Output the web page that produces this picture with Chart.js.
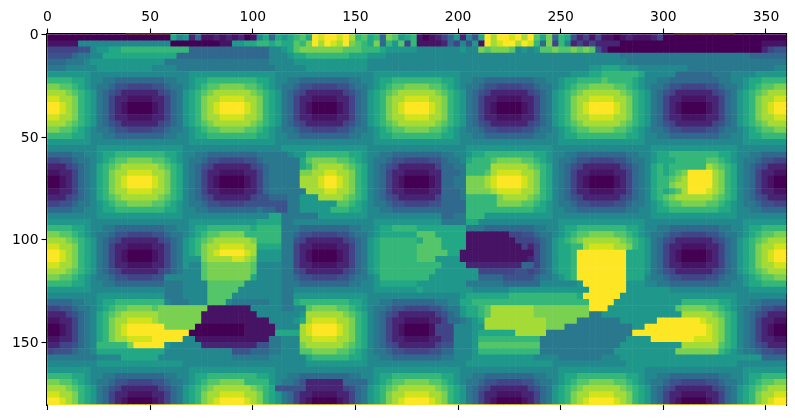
<!DOCTYPE html>
<html>
<head>
<meta charset="utf-8">
<script src="https://cdn.jsdelivr.net/npm/chart.js@4/dist/chart.umd.min.js"></script>
<style>
html, body { margin: 0; padding: 0; background: #fff; }
</style>
</head>
<body>
<canvas id="chart" width="795" height="420"></canvas>
<script>
var xTicks = [0, 50, 100, 150, 200, 250, 300, 350];
var yTicks = [0, 50, 100, 150];

// one hex digit per 3x3 cell, 0 = lowest level, F = highest
var gridRows = [
'000000000000000000009782511212 1201795989AB9FEFFEFDAB9A5CB89A 10123582749FDFFEFDFB9C5A942313 110121112300000000000000000000',
'111117777777777777770000000011 8899AA9A99BACFDFEDFCBA9C5A8B3A 11112537481FDEFFDFEA5C3A723232 222000000000000000000000001111',
'333334478899AAAAAAAAAAA5555555 5555557789BCCCCCCCBBBAAA988888 7777777877CBCCCB7878BBCBBCBCB4 200000000000000000000000002344',
'444456677999999999999555555555 555555777899AAAAAAA99988877777 777777777777777777777777777777 777666666666666666666666555555',
'555666788888888888866666666666 666666777788888888888877777777 777777777777777777777777777777 777766666666666666666666666666',
'666777778888888887777666666666 666666677777888888888877777777 777777777777777777777777777788 999888777777776666666666666677',
'888888877777777777777778888888 888888877777777777777778888888 888888877777777777777777788899 AAAAAA977777555555666777788888',
'AAAA9987766555555556677899AAAA AAAA9987766555555556677899AAAA AAAA9987766555555556677899AAAA BAAAA987766555555556677899AAAA',
'CCBBA98766544333344566789ABBCC CCBBA98766544333344566789ABBCC CCBBA98766544333344566789ABBCC CCBBA98766544333344566789ABBCC',
'DDDCBA986543222222345689ABCDDD DDDCBA986543222222345689ABCDDD DDDCBA986543222222345689ABCDDD DDDCBA986543222222345689ABCDDD',
'EEDDCA986532211112235689ACDDEE EEDDCA986532211112235689ACDDEE EEDDCA986532211112235689ACDDEE EEDDCA986532211112235689ACDDEE',
'FFEDCA986532100001235689ACDEFF FFEDCA986532100001235689ACDEFF FFEDCA986532100001235689ACDEFF FFEDCA986532100001235689ACDEFF',
'FFEDCA986532100001235689ACDEFF FFEDCA986532100001235689ACDEFF FFEDCA986532100001235689ACDEFF FFEDCA986532100001235689ACDEFF',
'EEDDCA986532211112235689ACDDEE EEDDCA986532211112235689ACDDEE EEDDCA986532211112235689ACDDEE EEDDCA986532211112235689ACDDEE',
'DDDCBA986543222222345689ABCDDD DDDCBA986543222222345689ABCDDD DDDCBA986543222222345689ABCDDD DDDCBA986543222222345689ABCDDD',
'CCBBA98766544333344566789ABBCC CCBBA98766544333344566789ABBCC CCBBA98766544333344566789ABBCC CCBBA98766544333344566789ABBCC',
'AAAA9987766555555556677899AAAA AAAA9987766555555556677899AAAA AAAA9987766555555556677899AAAA AAAA9987766555555556677899AAAA',
'888888877777777777777778888888 888888877777777777777778888888 888888877777777777777778888888 888888877777777777777778888888',
'777777778888888888888877777777 777777778888888888888877777777 777777778888888888888877777777 777777778888888888888877777777',
'55556677899AAAAAAAA99877665555 555566666788AAAAAAA99877665555 55556677899AAAAAAAA99877665555 55556677899AAAAAAAA99877665555',
'3344566789ABBCCCCBBA9876654433 334456666669BCCCCBBA9876654433 334456679AAABCCCCBBA9876654433 334456678999AAAAABBA9876654433',
'222345679ABCDDDDDDCBA976543222 222345666669ACDDDDCBA976543222 22235566AAAADDDDDDCBA976543222 222345679A9AAAAAADCBA976543222',
'112235679ACDDEEEEDDCA976532211 11223566666CCDDEEDDCA976532211 11225556AAABDEEEEDDCA976532211 112235679A9ABCFFFFDCA976532211',
'001235679ACDEFFFFEDCA976532100 00123566666DDDEFFEDCA976532100 00125566CCCDEFFFFEDCA976532100 001235679AABCDFFFFDCA976532100',
'001235679ACDEFFFFEDCA976532100 00123566666DDDEFFEDCA976532100 00125566CCCDEFFFFEDCA976532100 001235679AACDDFFFFDCA976532100',
'112235679ACDDEEEEDDCA976532211 112235666666DDDEEDDCA976532211 11225556CCCCDEEEEDDCA976532211 112235679A9ABDFFFEDCA976532211',
'222345679ABCDDDDDDCBA976543222 22234455566888DDDDCBA976543222 22235556AAAAACDDDDCBA976543222 222345679ABCDDDDDDCBA976543222',
'3344566789ABBCCCCBBA9876654433 33444444466888888BBA9876654433 33445555AAAAACCCCBBA9876654433 3344566789ABBCCCCBBA9876654433',
'55556677899AAAAAAAA99877665555 5555655446688888AAA99877665555 55555555AAAAAAAAAAA99877665555 55556677899AAAAAAAA99877665555',
'777777778888888888888877777777 777777996666668888888877777777 77775566AAA8888888888877777777 777777778888888888888877777777',
'888888877777777777777778888888 888899996677777777777778888888 888866669977777777777778888888 888888877777777777777778888888',
'AAAA9987766555555556677899AAAA AAA9AAAA666555555556677899AAAA 99999999666555555556677899AAAA AAAA9987766555555556677899AAAA',
'CCBBA98766544333344566789ABBCC CCAAAAAA6654433334456678999999 BBB9999911111113344566789ABBCC CCBBA98766544333344566789ABBCC',
'DDDCBA986543222222345689ABCDDD DDDCAAAA6643222222345689AAAAAA 9BBB99991111111133345689ABCDDD DDDCBA986543222222345689ABCDDD',
'EEDDCA986532211112235689ACDDEE EEDD99996632211112235689AAAAAA BBBB999911111111132356899AADEE EEDDCA986532211112235689ACDDEE',
'FFEDCA986532100001235689ACDEFF FFED88886632100001235689AAAAAA BBBBB9911111111111135689 9AFFFF FFFF99986532100001235689ACDEFF',
'FFEDCA98653210000123568 88CDDDD EEDC88886632100001235689AAAAAA BBB888811111111111235689 9AFFFF FFFF99986532100001235689ACDEFF',
'EEDDCA98653221111223568 77BCCCC CCCB77776632211112235689AAAAAA AAAA8888222222222553568 99AFFFF FFFF99986532211112235689ACDDEE',
'DDDCBA986543222222345 67 77BCCCC CCCB77776643222222345689AAAAAA AAA8888888333333443456 89 9AFFFF FFFF99986543222222345689ABCDDD',
'CCBBA98766544333344777777BCCCC CCC97777665443333445 6678AAAAAA AA88888888555544444566 78 9AFFFF FFFF999766544333344566789ABBCC',
'AAAA998776655555555 6667777BBBB BB7777776665555555566778999999 888888886666665555557777778FFF FFFF8887766555555556677899AAAA',
'88888887777777777776667777BBBB B777777766777777777777788888889 888888887777778888888888888FFF FFF888888877777777777778888888',
'777777778888888888866677 77BBBB 777777776688888888888877777777 7777777899999 99AAAAAAAAAAA9FFF FFF8888888888888888888 77777777',
'55556677899AAAAAAAA7666777BBB7 66666677669AAAAAAAA99877665555 555667799AAAAAAAAAAAAAAAAAAAFF FF88888888888AAAAAA99877665555',
'3344566789ABBCCCCBCCCCCCCC1111 111777776677BCCCCBBA9876654433 3344566899ABDDDDDDDCCCCCCCCCFF F88888888888BCCCCBBA9876654433',
'222345679ABCDDDDDDCCCCCCC11111 111177777778DDDDDDCBA976543222 2223456899ABDDDDDDDCCCCCCCCC66 8888888888888DDDDDCBA976543222',
'112235679ACDDEEEEDCCCCCCC11111 111111777789DEEEEDDCA976532211 11223556789DDDDDDDDDDCCCCC6666 666888888FFFFFFFEDDCA976532211',
'001235679ACDEFFFFFFCCCCC000000 00111117777DEFFFFEDCA976532100 0013337778 8DDDDDDDDDDCCC666666 6666688FFFFFFFFFFEDCA976532100',
'001235679ACDEFFFFFFFFFF0000000 00111119999DEFFFFEDCA976532100 0013337778999999DDDDD666666666 66666FFFFFFFFFFFFEDCA976532100',
'112235679ACDDEEEEFFFFF77111111 11111166777DDEEEEDDCA976532211 1122337778AAAAAAAAAA6666666666 66668888FFFFFFFEEEDCA976532211',
'22334567AAAAACFFFFF87777722222 22224466777CDDDDDDCBA976543222 2223447778BBBBBBBBBB6666666666 6668888888888DDDDDDBA976543222',
'344456679999999999977777777777 44455566777BBCCCCBBA9876654433 3344557778AAAAAAAAAA6666666666 668888888888CCCCCCCA9876654433',
'666666667777999999777777777777 6666667777779AAAAAA99877665555 5555667778888888888777766666 66 777888888888888888888888885555',
'777777778888888888888877777777 777777777777888888888877777777 777777778888888888888877777777 777788888888888888888877777777',
'888888877777777777777778888888 888888877777777777777778888888 888888877777777777777778888888 888888877777777777777778888888',
'AAAA9987766555555556677899AAAA AAAA9987766555555556677899AAAA AAAA9987766555555556677899AAAA AAAA9987766555555556677899AAAA',
'CCBBA98766544333344566789ABBCC CCAAAA8766542222225555789ABBCC CCBBA98766544333344566789ABBCC CCBBA98766544333344566789ABBCC',
'DDDCBA986543222222345689ABCDDD DDDCBA944444222222345689ABCDDD DDDCBA986543222222345689ABCDDD DDDCBA986543222222345689ABCDDD',
'EEDDCA986532211112235689ACDDEE EEDDCA986532211112235689ACDDEE EEDDCA986532211112235689ACDDEE EEDDCA986532211112235689ACDDEE',
'FFEDCA986532100001235689ACDEFF FFEDCA986532100001235689ACDEFF FFEDCA986532100001235689ACDEFF FFEDCA986532100001235689ACDEFF'
];

// first and last rows of the grid are thin solid runs
var firstRowRunA = [38, 60];
var firstRowRunB = [305, 335];
var firstRowY = 0;
var lastRowX = [0, 360];
var lastRowY = 180;

var viridis = ['#440154','#471365','#482475','#414487','#3b528b','#31688e','#2a788e','#23888e',
	'#1f988b','#22a884','#35b779','#54c568','#7ad151','#a5db36','#d2e21b','#fde725'];

var cellSize = 3;
var cells = [];
var cellColors = [];
gridRows.forEach(function(row, j) {
	var chars = row.replace(/ /g, '');
	for (var i = 0; i < chars.length; i++) {
		cells.push({x: i * cellSize + cellSize / 2, y: j * cellSize + cellSize / 2});
		cellColors.push(viridis[parseInt(chars[i], 16)]);
	}
});

var tickFont = {family: '"DejaVu Sans"', size: 13.9};

function setTicks(values) {
	return function(scale) {
		scale.ticks = values.map(function(v) { return {value: v}; });
	};
}

function runDataset(xs, y, color, width) {
	return {
		type: 'line',
		data: xs.map(function(x) { return {x: x, y: y}; }),
		borderColor: color,
		borderWidth: width,
		pointRadius: 0
	};
}

new Chart(document.getElementById('chart'), {
	type: 'scatter',
	data: {
		datasets: [
			{
				data: cells,
				pointStyle: 'rect',
				// rect side is radius * sqrt(2), a bit extra so neighbours leave no seams
				pointRadius: function(ctx) {
					var s = ctx.chart.scales.x;
					var side = s.getPixelForValue(cellSize) - s.getPixelForValue(0);
					return (side / 2 + 0.3) * Math.SQRT2;
				},
				pointBackgroundColor: cellColors,
				pointBorderWidth: 0,
				showLine: false
			},
			runDataset(firstRowRunA, firstRowY, viridis[14], 2),
			runDataset(firstRowRunB, firstRowY, viridis[14], 2),
			runDataset(lastRowX, lastRowY, viridis[15], 2)
		]
	},
	options: {
		responsive: false,
		animation: false,
		events: [],
		layout: {padding: 0},
		plugins: {legend: {display: false}, tooltip: {enabled: false}},
		scales: {
			x: {
				type: 'linear',
				position: 'top',
				min: -0.5,
				max: 360,
				afterBuildTicks: setTicks(xTicks),
				afterFit: function(scale) { scale.height = 33.5; },
				ticks: {color: '#000', font: tickFont, padding: 3, maxRotation: 0},
				grid: {drawOnChartArea: false, color: '#000', tickLength: 5, tickWidth: 1.1},
				border: {color: '#000', width: 1.1}
			},
			x2: {
				axis: 'x',
				type: 'linear',
				position: 'bottom',
				min: -0.5,
				max: 360,
				afterBuildTicks: setTicks(xTicks),
				afterFit: function(scale) { scale.height = 15; },
				ticks: {display: false},
				grid: {drawOnChartArea: false, color: '#000', tickLength: 5, tickWidth: 1.1},
				border: {color: '#000', width: 1.1}
			},
			y: {
				type: 'linear',
				position: 'left',
				reverse: true,
				min: -0.5,
				max: 180.5,
				afterBuildTicks: setTicks(yTicks),
				afterFit: function(scale) { scale.width = 46.5; },
				ticks: {color: '#000', font: tickFont, padding: 3, labelOffset: 1},
				grid: {drawOnChartArea: false, color: '#000', tickLength: 5, tickWidth: 1.1},
				border: {color: '#000', width: 1.1}
			},
			y2: {
				axis: 'y',
				type: 'linear',
				position: 'right',
				reverse: true,
				min: -0.5,
				max: 180.5,
				afterFit: function(scale) { scale.width = 8.5; },
				ticks: {display: false},
				grid: {display: false},
				border: {color: '#000', width: 1.1}
			}
		}
	}
});
</script>
</body>
</html>
